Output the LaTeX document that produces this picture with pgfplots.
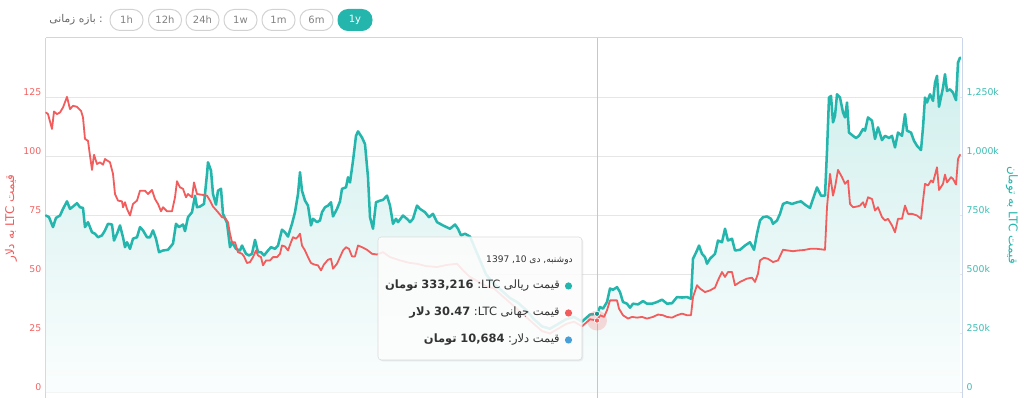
\documentclass[border=0pt]{standalone}
\usepackage{fontspec}
\setmainfont{DejaVu Sans}
\newfontfamily\arabicfont[Script=Arabic]{DejaVu Sans}
\usepackage{pgfplots}
\pgfplotsset{compat=1.18}
\usepackage{pgfplotstable}
\usetikzlibrary{shadows}
\TeXXeTstate=1
\definecolor{redc}{RGB}{242,92,92}
\definecolor{tealc}{RGB}{36,182,172}
\definecolor{gridc}{RGB}{230,230,230}
\definecolor{axisc}{RGB}{204,214,235}
\definecolor{tealtick}{RGB}{60,188,178}
\definecolor{redtick}{RGB}{242,100,100}
\definecolor{txt}{RGB}{51,51,51}
\definecolor{btn}{RGB}{210,210,210}
\definecolor{btntxt}{RGB}{130,130,130}
\definecolor{bluec}{RGB}{73,160,217}

% LTC price in dollars
\pgfplotstableread{
x y
46 118.5
48 117.8
52 111.5
54 118.9
57 117.8
60 118.5
63 120.6
67 125.1
70 119.9
73 121.3
77 120.9
81 119.2
83 116.4
85 107.3
88 106.5
90 100.2
92 94.2
94 100.6
97 96.7
100 97.4
103 96.4
105 98.8
110 97.4
113 92.5
115 84.0
118 81.2
122 80.9
123 78.4
125 80.5
127 77.7
130 74.9
133 79.8
137 81.2
140 85.4
145 85.4
148 84.0
152 85.7
155 81.9
158 79.8
161 76.7
163 78.4
167 76.7
172 76.7
175 82.6
177 89.4
180 86.8
183 86.2
186 82.6
188 84.0
192 82.6
194 88.9
197 84.0
203 83.6
207 83.3
210 81.2
213 78.7
218 76.3
222 74.2
225 73.9
228 72.0
230 67.2
232 63.6
235 63.6
238 59.4
242 58.7
244 57.6
247 54.8
250 55.2
253 57.3
256 60.1
258 58.0
261 57.3
263 53.8
266 55.9
270 55.9
273 57.3
277 57.3
280 58.7
282 62.2
285 61.8
288 60.1
291 63.6
293 65.7
296 65.1
298 66.0
300 67.2
302 62.2
305 60.1
308 57.3
311 54.8
314 54.2
318 53.8
321 51.7
324 54.2
328 56.2
331 56.6
333 52.4
337 54.5
340 57.3
343 60.1
346 61.5
349 60.8
352 57.6
355 57.6
358 62.2
362 61.5
367 60.4
372 58.7
377 58.4
383 59.4
390 57.3
400 55.9
410 54.8
417 54.5
426 53.5
437 53.1
447 54.0
457 54.5
463 51.7
470 48.9
478 47.0
486 45.0
494 44.0
502 41.0
510 38.0
518 35.0
526 32.0
534 29.0
542 26.0
550 25.0
558 27.0
566 29.0
574 30.0
582 28.0
590 31.0
597 30.47
600 32.7
604 32.0
607 34.8
610 39.0
617 39.0
619 35.5
623 32.7
628 31.3
632 32.0
637 31.7
642 32.0
647 31.3
653 32.0
658 33.0
663 32.7
667 32.0
672 31.7
677 32.7
682 33.4
687 32.7
691 32.7
693 40.4
697 45.4
700 44.0
705 42.5
710 43.2
715 44.4
718 47.5
722 51.0
725 48.9
728 51.0
732 51.0
735 45.4
740 46.8
747 48.2
752 48.6
755 46.8
758 50.3
760 55.9
764 57.0
768 56.6
773 55.2
778 55.9
783 60.4
788 60.1
793 59.8
798 60.1
804 60.3
810 60.8
817 60.8
825 60.4
827 78.4
830 92.5
833 83.3
835 86.8
838 94.2
842 91.1
845 88.3
848 89.7
850 79.8
853 78.4
857 78.7
860 79.1
863 80.5
865 78.4
868 82.6
872 81.9
875 77.0
878 78.4
882 74.2
885 72.8
888 73.5
892 70.7
895 67.8
898 73.5
902 73.5
905 79.1
908 75.6
912 75.6
917 74.9
921 73.5
923 81.2
925 88.3
928 87.6
931 89.7
933 88.9
937 95.3
939 85.7
943 88.3
945 92.2
947 88.9
951 91.1
953 90.4
956 88.0
958 98.8
960 100.6
}\reddata

% LTC price in thousand toman
\pgfplotstableread{
x y
46 749
49 742
53 700
56 739
60 749
63 777
67 809
70 777
73 787
77 801
80 784
83 781
85 700
88 721
92 678
95 672
98 657
102 665
105 686
108 714
112 711
114 643
117 672
120 707
123 657
125 615
127 636
130 608
133 651
137 657
140 700
143 686
147 657
150 657
153 686
156 651
159 594
163 601
168 604
173 630
176 714
179 700
183 711
185 683
188 742
192 763
195 833
197 784
200 787
204 798
207 925
208 974
211 939
213 840
216 795
218 854
221 862
223 756
227 718
230 615
232 636
236 608
240 601
242 622
246 587
249 580
252 587
255 646
258 594
261 594
264 580
268 601
271 615
275 608
278 622
282 689
285 678
288 660
292 714
295 763
298 840
300 932
302 854
305 812
308 791
311 707
313 735
317 721
320 728
322 763
325 784
328 791
331 805
333 745
337 777
340 809
342 862
346 868
348 911
350 889
353 981
356 1086
358 1105
362 1079
365 1051
368 911
370 742
373 693
376 805
380 812
383 815
387 833
390 791
393 714
396 735
398 721
403 749
408 731
410 721
413 735
417 791
420 777
425 763
429 742
433 756
437 721
443 707
450 693
455 711
458 693
461 665
465 672
470 660
478 580
486 500
494 460
502 430
510 400
518 380
526 350
534 310
542 280
550 270
558 290
566 310
574 320
582 300
590 330
597 333.2
600 362
603 355
607 383
610 440
613 435
617 446
620 425
623 383
627 376
630 359
633 376
638 373
643 387
647 376
652 376
657 383
662 393
667 376
672 378
677 404
682 402
687 404
691 397
693 566
697 601
699 622
702 587
705 573
707 545
710 566
715 587
718 643
722 636
725 693
728 643
732 651
735 601
740 604
745 622
750 636
754 604
757 672
760 728
763 742
767 745
771 735
773 714
777 728
780 756
783 798
787 805
792 798
797 805
801 809
805 795
810 781
813 819
817 868
821 833
825 833
827 1023
829 1248
831 1255
833 1143
835 1171
837 1262
840 1248
843 1185
845 1164
847 1227
849 1100
853 1086
856 1077
859 1086
863 1115
865 1108
868 1164
872 1150
875 1073
878 1122
882 1068
885 1086
889 1077
892 1086
895 1037
898 1100
902 1086
905 1178
907 1108
911 1100
914 1065
917 1044
921 1026
923 1122
925 1248
927 1227
930 1262
933 1234
935 1311
937 1340
939 1209
943 1290
945 1347
947 1276
950 1283
953 1269
956 1237
958 1396
960 1417
}\tealdata

\begin{document}
\begin{tikzpicture}[x=0.75pt,y=0.75pt]
\useasboundingbox (0,0) rectangle (1024,398);

% main (left, dollar) axis
\begin{axis}[
  at={(34.5pt,0pt)}, anchor=south west,
  scale only axis, width=687pt, height=270pt,
  xmin=46, xmax=962, ymin=-2.3, ymax=150,
  hide x axis,
  axis y line*=left,
  y axis line style={draw=axisc, line width=0.75pt, -},
  ytick={0,25,50,75,100,125},
  yticklabels={0,25,50,75,100,125},
  major tick length=0pt,
  ymajorgrids, grid style={draw=gridc, line width=0.75pt},
  yticklabel style={text=redtick, font=\fontsize{7}{8}\selectfont, yshift=3.75pt},
  /pgf/number format/assume math mode=true,
  clip=false,
]
\draw[axisc, line width=0.75pt] (rel axis cs:0,1) -- (rel axis cs:1,1);
\addplot[draw=none, top color=tealc!22, bottom color=tealc!2]
  table[x=x, y expr=\thisrow{y}/10] {\tealdata} \closedcycle;
\addplot[tealc, line width=1.9pt, line join=round, line cap=round]
  table[x=x, y expr=\thisrow{y}/10] {\tealdata};
\addplot[redc, line width=1.35pt, line join=round, line cap=round]
  table[x=x, y=y] {\reddata};
\addplot[black!22, line width=0.75pt] coordinates {(597,-2.3) (597,150)};
\addplot[color=redc, only marks, mark=*, mark size=7.5pt,
  mark options={draw opacity=0, fill=redc, fill opacity=0.22}] coordinates {(597,30.47)};
\addplot[color=redc, only marks, mark=*, mark size=2pt,
  mark options={draw=white, line width=0.5pt, fill=redc}] coordinates {(597,30.47)};
\addplot[color=tealc, only marks, mark=*, mark size=2pt,
  mark options={draw=white, line width=0.5pt, fill=tealc!80!black}] coordinates {(597,33.32)};
\end{axis}

% right (toman) axis
\begin{axis}[
  at={(34.5pt,0pt)}, anchor=south west,
  scale only axis, width=687pt, height=270pt,
  xmin=46, xmax=962, ymin=-23, ymax=1500,
  hide x axis,
  axis y line*=right,
  y axis line style={draw=axisc, line width=0.75pt, -},
  ytick={0,250,500,750,1000,1250},
  yticklabels={0,250k,500k,750k,{1,000k},{1,250k}},
  major tick length=0pt,
  yticklabel style={text=tealtick, font=\fontsize{7}{8}\selectfont, yshift=3.75pt},
  /pgf/number format/assume math mode=true,
]
\addplot[draw=none] coordinates {(46,0)};
\end{axis}

% axis titles
\node[rotate=90, text=redc, font=\fontsize{9}{10}\selectfont] at (11,180)
  {{\arabicfont دلار} {\arabicfont به} LTC {\arabicfont قیمت}};
\node[rotate=-90, text=tealc, font=\fontsize{9}{10}\selectfont] at (1012,183)
  {{\arabicfont تومان} {\arabicfont به} LTC {\arabicfont قیمت}};

% time range selector
\node[anchor=east, text=black!60, font=\fontsize{8}{9}\selectfont, inner sep=0pt] at (103,378)
  {{\arabicfont\beginR بازه زمانی\endR}\ :};
\foreach \cx/\lab in {126.5/1h,165/12h,202.5/24h,240.5/1w,278.5/1m,316.5/6m}{
  \draw[btn, line width=0.75pt, fill=white, rounded corners=7.6pt] (\cx-16.5,367.5) rectangle (\cx+16.5,388.5);
  \node[text=btntxt, font=\fontsize{7.5}{9}\selectfont] at (\cx,378) {\lab};
}
\draw[tealc, line width=0.75pt, fill=tealc, rounded corners=7.6pt] (338,367.5) rectangle (372,388.5);
\node[text=white, font=\fontsize{7.5}{9}\selectfont] at (355,378) {1y};

% tooltip
\draw[draw=black!15, fill=white, fill opacity=0.86, rounded corners=2.5pt,
  drop shadow={opacity=0.12, shadow xshift=1pt, shadow yshift=-1pt}]
  (378,38) rectangle (582,161);
\node[anchor=east, text=txt, font=\fontsize{6.8}{8}\selectfont, inner sep=0pt] at (573,138)
  {1397 ,10 {\arabicfont دی} ,{\arabicfont دوشنبه}};
\fill[tealc] (568.5,112) circle (3.6);
\node[anchor=east, text=txt, font=\fontsize{8.6}{10}\selectfont, inner sep=0pt] at (560,112)
  {{\bfseries\arabicfont تومان} {\bfseries 333,216} :LTC {\arabicfont\beginR قیمت ریالی\endR}};
\fill[redc] (568.5,85) circle (3.6);
\node[anchor=east, text=txt, font=\fontsize{8.6}{10}\selectfont, inner sep=0pt] at (560,85)
  {{\bfseries\arabicfont دلار} {\bfseries 30.47} :LTC {\arabicfont\beginR قیمت جهانی\endR}};
\fill[bluec] (568.5,58) circle (3.6);
\node[anchor=east, text=txt, font=\fontsize{8.6}{10}\selectfont, inner sep=0pt] at (560,58)
  {{\bfseries\arabicfont تومان} {\bfseries 10,684} :{\arabicfont\beginR قیمت دلار\endR}};
\end{tikzpicture}
\end{document}
